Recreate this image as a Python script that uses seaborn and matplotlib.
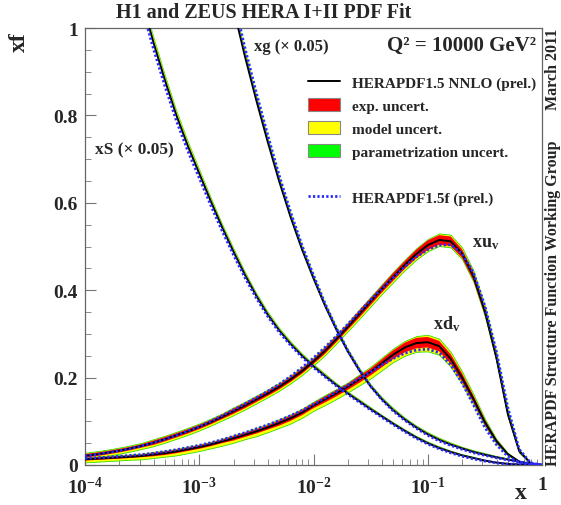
import numpy as np
import pandas as pd
import matplotlib
matplotlib.use("Agg")
import matplotlib.pyplot as plt
import seaborn as sns
from matplotlib.lines import Line2D
from matplotlib.patches import Patch
from matplotlib.ticker import LogLocator, MultipleLocator, NullFormatter

# ---------------- data ----------------
log10_x = [-4.0, -3.9, -3.8, -3.7, -3.6, -3.5, -3.4, -3.3, -3.2, -3.1, -3.0,
           -2.9, -2.8, -2.7, -2.6, -2.5, -2.4, -2.3, -2.2, -2.1, -2.0,
           -1.9, -1.8, -1.7, -1.6, -1.5, -1.4, -1.3, -1.2, -1.1, -1.0,
           -0.9, -0.8, -0.7, -0.6, -0.5, -0.4, -0.3, -0.2, -0.1, 0.0]

# HERAPDF1.5 NNLO central values
xuv = [0.021, 0.0244, 0.0283, 0.0328, 0.038, 0.044, 0.051, 0.059, 0.068, 0.077, 0.087,
       0.098, 0.110, 0.123, 0.136, 0.150, 0.164, 0.179, 0.196, 0.215, 0.237,
       0.261, 0.288, 0.316, 0.345, 0.374, 0.403, 0.431, 0.458, 0.483, 0.503,
       0.515, 0.512, 0.484, 0.432, 0.352, 0.247, 0.118, 0.032, 0.004, 0.0]
xdv = [0.013, 0.0145, 0.016, 0.0175, 0.019, 0.021, 0.024, 0.027, 0.031, 0.036, 0.041,
       0.047, 0.054, 0.061, 0.069, 0.077, 0.086, 0.096, 0.107, 0.120, 0.136,
       0.150, 0.164, 0.179, 0.196, 0.213, 0.233, 0.253, 0.269, 0.279, 0.281,
       0.272, 0.243, 0.200, 0.151, 0.098, 0.055, 0.025, 0.008, 0.001, 0.0]
xS = [1.65, 1.51, 1.38, 1.27, 1.16, 1.06, 0.966, 0.88, 0.80, 0.73, 0.667,
      0.604, 0.544, 0.488, 0.435, 0.387, 0.344, 0.308, 0.277, 0.250, 0.226,
      0.204, 0.183, 0.164, 0.146, 0.128, 0.111, 0.094, 0.078, 0.063, 0.050,
      0.039, 0.030, 0.022, 0.016, 0.010, 0.0055, 0.0025, 0.001, 0.0003, 0.0]
xg = [3.90, 3.53, 3.19, 2.89, 2.61, 2.36, 2.14, 1.93, 1.75, 1.58, 1.43,
      1.29, 1.16, 1.045, 0.935, 0.834, 0.739, 0.649, 0.567, 0.493, 0.427,
      0.365, 0.310, 0.260, 0.217, 0.180, 0.150, 0.125, 0.104, 0.086, 0.0705,
      0.0577, 0.047, 0.038, 0.030, 0.0235, 0.0178, 0.0125, 0.0075, 0.003, 0.0]

# HERAPDF1.5f central values
xuv_f = [0.021, 0.0244, 0.0283, 0.0328, 0.038, 0.044, 0.051, 0.059, 0.068, 0.078, 0.088,
         0.100, 0.113, 0.126, 0.140, 0.154, 0.169, 0.185, 0.203, 0.223, 0.245,
         0.269, 0.295, 0.322, 0.350, 0.378, 0.404, 0.429, 0.454, 0.476, 0.493,
         0.503, 0.504, 0.484, 0.440, 0.364, 0.260, 0.132, 0.036, 0.005, 0.0]
xdv_f = [0.015, 0.0165, 0.018, 0.020, 0.022, 0.024, 0.027, 0.031, 0.035, 0.040, 0.045,
         0.051, 0.058, 0.066, 0.074, 0.083, 0.092, 0.102, 0.113, 0.125, 0.139,
         0.153, 0.168, 0.183, 0.198, 0.213, 0.229, 0.244, 0.256, 0.263, 0.265,
         0.257, 0.230, 0.188, 0.138, 0.086, 0.047, 0.020, 0.006, 0.001, 0.0]
xS_f = [1.62, 1.49, 1.36, 1.25, 1.14, 1.045, 0.952, 0.867, 0.788, 0.719, 0.657,
        0.595, 0.536, 0.481, 0.429, 0.382, 0.340, 0.304, 0.274, 0.247, 0.223,
        0.202, 0.181, 0.162, 0.144, 0.126, 0.109, 0.092, 0.076, 0.061, 0.048,
        0.037, 0.028, 0.020, 0.014, 0.009, 0.005, 0.002, 0.001, 0.0, 0.0]
xg_f = [3.96, 3.59, 3.24, 2.94, 2.65, 2.40, 2.18, 1.96, 1.78, 1.61, 1.455,
        1.315, 1.183, 1.066, 0.954, 0.851, 0.754, 0.662, 0.578, 0.502, 0.434,
        0.370, 0.313, 0.262, 0.218, 0.180, 0.149, 0.123, 0.102, 0.084, 0.068,
        0.055, 0.045, 0.036, 0.028, 0.022, 0.0165, 0.0115, 0.007, 0.003, 0.0]

# experimental uncertainty (half width)
xuv_exp = [0.004, 0.004, 0.004, 0.004, 0.004, 0.004, 0.005, 0.005, 0.005, 0.005, 0.005,
           0.005, 0.005, 0.006, 0.006, 0.006, 0.006, 0.006, 0.006, 0.006, 0.006,
           0.007, 0.007, 0.007, 0.008, 0.008, 0.008, 0.009, 0.009, 0.010, 0.011,
           0.011, 0.011, 0.010, 0.010, 0.009, 0.008, 0.006, 0.003, 0.001, 0.0]
xdv_exp = [0.003, 0.003, 0.003, 0.003, 0.003, 0.003, 0.004, 0.004, 0.004, 0.004, 0.004,
           0.004, 0.004, 0.005, 0.005, 0.005, 0.005, 0.006, 0.006, 0.006, 0.006,
           0.007, 0.007, 0.007, 0.008, 0.008, 0.009, 0.010, 0.011, 0.012, 0.012,
           0.012, 0.011, 0.010, 0.008, 0.006, 0.004, 0.002, 0.001, 0.0, 0.0]
# exp + model uncertainty (above / below the central value)
xuv_mod_up = [0.007, 0.007, 0.007, 0.007, 0.007, 0.007, 0.008, 0.008, 0.008, 0.008, 0.008,
              0.008, 0.008, 0.009, 0.009, 0.009, 0.009, 0.009, 0.009, 0.009, 0.009,
              0.010, 0.010, 0.010, 0.011, 0.011, 0.011, 0.012, 0.012, 0.013, 0.014,
              0.015, 0.015, 0.014, 0.013, 0.012, 0.011, 0.008, 0.004, 0.001, 0.0]
xuv_mod_dn = [0.007, 0.007, 0.007, 0.007, 0.007, 0.007, 0.008, 0.008, 0.008, 0.008, 0.008,
              0.008, 0.008, 0.009, 0.009, 0.009, 0.009, 0.009, 0.009, 0.009, 0.009,
              0.010, 0.010, 0.010, 0.011, 0.011, 0.011, 0.012, 0.012, 0.013, 0.014,
              0.014, 0.014, 0.013, 0.013, 0.012, 0.010, 0.008, 0.004, 0.001, 0.0]
xdv_mod_up = [0.005, 0.005, 0.005, 0.005, 0.005, 0.005, 0.006, 0.006, 0.006, 0.006, 0.006,
              0.006, 0.006, 0.007, 0.007, 0.008, 0.008, 0.009, 0.009, 0.009, 0.009,
              0.010, 0.010, 0.010, 0.011, 0.012, 0.013, 0.014, 0.015, 0.016, 0.017,
              0.017, 0.016, 0.014, 0.011, 0.008, 0.005, 0.003, 0.001, 0.0, 0.0]
xdv_mod_dn = [0.007, 0.007, 0.007, 0.007, 0.007, 0.008, 0.008, 0.008, 0.009, 0.009, 0.009,
              0.009, 0.010, 0.010, 0.010, 0.011, 0.011, 0.011, 0.012, 0.012, 0.012,
              0.013, 0.013, 0.013, 0.014, 0.015, 0.016, 0.017, 0.019, 0.020, 0.021,
              0.020, 0.018, 0.015, 0.012, 0.009, 0.006, 0.003, 0.001, 0.0, 0.0]
xS_mod_up = [0.025, 0.023, 0.021, 0.019, 0.018, 0.016, 0.015, 0.014, 0.013, 0.012, 0.011,
             0.010, 0.009, 0.009, 0.008, 0.007, 0.007, 0.006, 0.006, 0.005, 0.005,
             0.005, 0.004, 0.004, 0.004, 0.004, 0.003, 0.003, 0.003, 0.003, 0.003,
             0.003, 0.002, 0.002, 0.002, 0.001, 0.001, 0.001, 0.0, 0.0, 0.0]
xg_mod_up = [0.060, 0.055, 0.050, 0.046, 0.042, 0.038, 0.035, 0.032, 0.029, 0.026, 0.024,
             0.021, 0.019, 0.017, 0.015, 0.014, 0.012, 0.011, 0.010, 0.009, 0.008,
             0.007, 0.007, 0.006, 0.006, 0.005, 0.005, 0.005, 0.004, 0.004, 0.004,
             0.004, 0.004, 0.003, 0.003, 0.003, 0.002, 0.002, 0.001, 0.001, 0.0]

x_ticks = [1e-4, 1e-3, 1e-2, 1e-1, 1.0]
x_ticklabels = [r"$10^{-4}$", r"$10^{-3}$", r"$10^{-2}$", r"$10^{-1}$", "1"]
y_ticks = [0.0, 0.2, 0.4, 0.6, 0.8, 1.0]
y_ticklabels = ["0", "0.2", "0.4", "0.6", "0.8", "1"]

legend_labels = ["HERAPDF1.5 NNLO (prel.)", "exp. uncert.", "model uncert.",
                 "parametrization uncert.", "HERAPDF1.5f (prel.)"]

# ---------------- style ----------------
sns.set_theme(style="white")
plt.rcParams["font.family"] = ["Liberation Serif", "DejaVu Serif"]
plt.rcParams["font.weight"] = "bold"
plt.rcParams["mathtext.fontset"] = "custom"
plt.rcParams["mathtext.rm"] = "Liberation Serif:bold"
plt.rcParams["mathtext.it"] = "Liberation Serif:bold"
plt.rcParams["mathtext.bf"] = "Liberation Serif:bold"

W, H = 561, 506
fig = plt.figure(figsize=(W / 100, H / 100), dpi=100)
ax = fig.add_axes([85 / W, 40 / H, 457 / W, 437 / H])

def P(px, py):
    return (px / W, 1 - py / H)

x = 10 ** np.array(log10_x)
df = pd.DataFrame({"x": x, "xuv": xuv, "xdv": xdv, "xS": xS, "xg": xg,
                   "xuv_f": xuv_f, "xdv_f": xdv_f, "xS_f": xS_f, "xg_f": xg_f})

RED, YEL, GRN = "#ff0000", "#ffff00", "#33dd00"
BLUE = "#2a2aff"

# valence bands
for c, e, up, dn in [(xuv, xuv_exp, xuv_mod_up, xuv_mod_dn), (xdv, xdv_exp, xdv_mod_up, xdv_mod_dn)]:
    c = np.array(c); e = np.array(e); up = np.array(up); dn = np.array(dn)
    ax.fill_between(x, c - dn, c + up, facecolor=YEL, edgecolor=GRN, linewidth=0.6, zorder=2)
    ax.fill_between(x, c - e, c + e, facecolor=RED, edgecolor="none", zorder=3)

# sea / gluon bands (one-sided)
for c, up in [(xS, xS_mod_up), (xg, xg_mod_up)]:
    c = np.array(c); up = np.array(up)
    ax.fill_between(x, c, c + up, facecolor=YEL, edgecolor=GRN, linewidth=0.5, zorder=2)

for col in ["xuv", "xdv", "xS", "xg"]:
    sns.lineplot(data=df, x="x", y=col, ax=ax, color="black", linewidth=1.4,
                 sort=False, legend=False, zorder=4)
for col in ["xuv_f", "xdv_f", "xS_f", "xg_f"]:
    sns.lineplot(data=df, x="x", y=col, ax=ax, color=BLUE, linewidth=2.0,
                 linestyle=(0, (0.8, 0.8)), sort=False, legend=False, zorder=5)

# ---------------- axes ----------------
ax.set_xscale("log")
ax.set_xlim(1e-4, 1)
ax.set_ylim(0, 1)
ax.set_xlabel("")
ax.set_ylabel("")
ax.set_xticks(x_ticks)
ax.set_xticklabels(x_ticklabels)
ax.set_yticks(y_ticks)
ax.set_yticklabels(y_ticklabels)
ax.xaxis.set_minor_locator(LogLocator(base=10, subs=np.arange(2, 10)))
ax.xaxis.set_minor_formatter(NullFormatter())
ax.yaxis.set_minor_locator(MultipleLocator(0.05))
ax.tick_params(which="both", direction="in", top=False, right=False, left=True, bottom=True,
               color="#777777")
ax.tick_params(which="major", length=8, width=0.8, labelsize=14)
ax.tick_params(axis="y", which="major", pad=5)
ax.tick_params(axis="x", which="major", pad=8)
ax.tick_params(which="minor", length=4, width=0.6)
for lab in ax.get_xticklabels() + ax.get_yticklabels():
    lab.set_fontweight("bold")
for s in ax.spines.values():
    s.set_color("#666666")
    s.set_linewidth(0.9)

# ---------------- legend ----------------
handles = [Line2D([], [], color="black", linewidth=1.4),
           Patch(facecolor=RED, edgecolor="#888888", linewidth=0.8),
           Patch(facecolor=YEL, edgecolor="#888888", linewidth=0.8),
           Patch(facecolor="#00ff00", edgecolor="#888888", linewidth=0.8),
           Line2D([], [], color="none"),
           Line2D([], [], color=BLUE, linewidth=2.0, linestyle=(0, (0.8, 0.8)))]
labels = legend_labels[:4] + [" "] + legend_labels[4:]
ax.legend(handles, labels, loc="upper left", bbox_to_anchor=((308 - 85) / 457, (466 - 76) / 437),
          frameon=False, borderpad=0, borderaxespad=0, handlelength=2.1, handleheight=0.9,
          handletextpad=0.75, labelspacing=0.55, prop={"family": "Liberation Serif",
                                                         "weight": "bold", "size": 11})

# ---------------- texts ----------------
fig.text(*P(264, 13), "H1 and ZEUS HERA I+II PDF Fit", fontsize=14.5, weight="bold",
         ha="center", va="center")
fig.text(*P(19, 42), "xf", fontsize=17, weight="bold", rotation=90, ha="center", va="center")
fig.text(*P(521, 494), "x", fontsize=17, weight="bold", ha="center", va="center")
fig.text(*P(387, 46), "Q² = 10000 GeV²", fontsize=15, weight="bold", ha="left", va="center")
fig.text(*P(254, 47), "xg (× 0.05)", fontsize=12, weight="bold", ha="left", va="center")
fig.text(*P(95, 150), "xS (× 0.05)", fontsize=12.5, weight="bold", ha="left", va="center")
fig.text(*P(472, 243), r"$xu_v$", fontsize=13, ha="left", va="center")
fig.text(*P(433, 324), r"$xd_v$", fontsize=13, ha="left", va="center")
fig.text(*P(553, 466), "HERAPDF Structure Function Working Group", fontsize=11.5, weight="bold",
         rotation=90, ha="center", va="bottom")
fig.text(*P(553, 29), "March 2011", fontsize=11.5, weight="bold", rotation=90,
         ha="center", va="top")

fig.savefig("out.png", dpi=100)
